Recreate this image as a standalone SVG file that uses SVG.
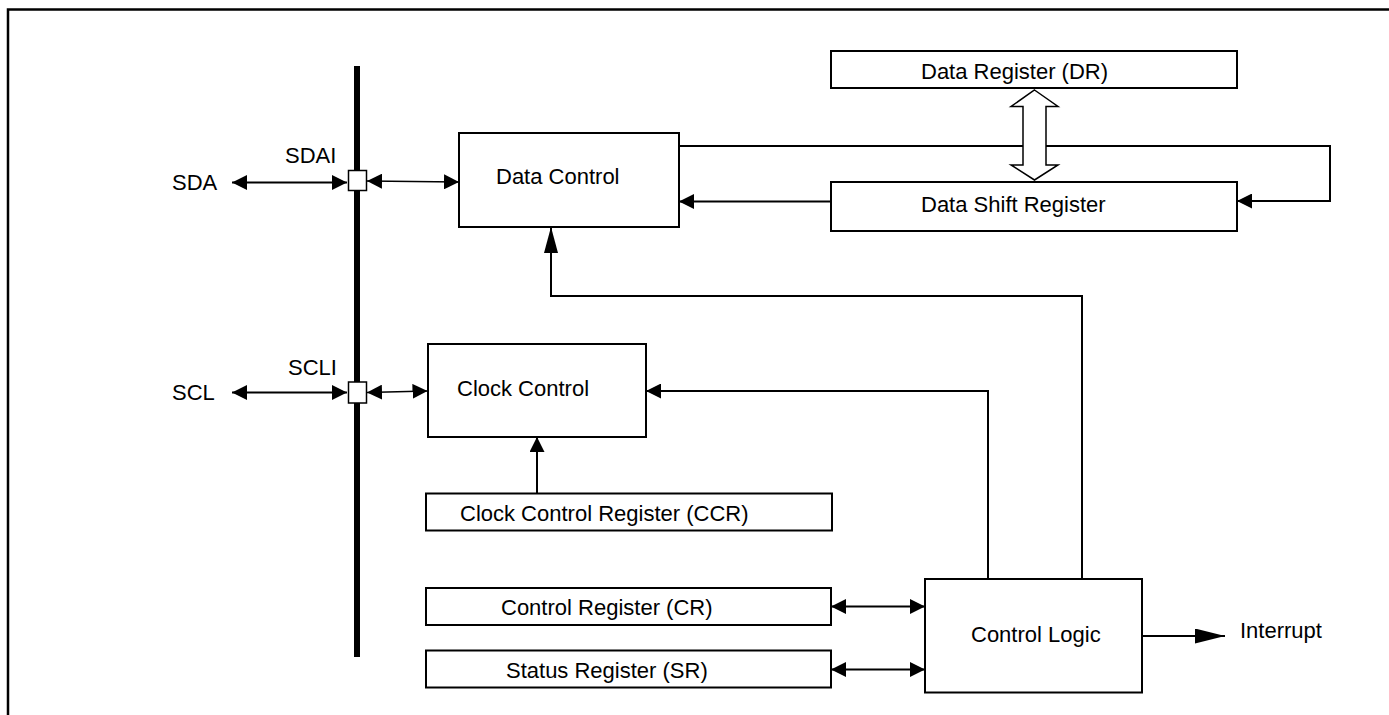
<svg xmlns="http://www.w3.org/2000/svg" width="1389" height="715" viewBox="0 0 1389 715">
<style>
.box{fill:#fff;stroke:#000;stroke-width:2}
.ln{fill:none;stroke:#000;stroke-width:2}
.thin{fill:none;stroke:#000;stroke-width:1.3}
text{font-family:"Liberation Sans",Arial,sans-serif;font-size:22px;fill:#000}
</style>
<defs>
<marker id="a" viewBox="0 0 15 15" markerWidth="15" markerHeight="15" refX="15" refY="7.5" markerUnits="userSpaceOnUse" orient="auto-start-reverse"><path d="M0,0 L15,7.5 L0,15 z" fill="#000"/></marker>
<marker id="tall" viewBox="0 0 26 14" markerWidth="26" markerHeight="14" refX="26" refY="7" markerUnits="userSpaceOnUse" orient="auto"><path d="M0,0 L26,7 L0,14 z" fill="#000"/></marker>
<marker id="big" viewBox="0 0 30 15" markerWidth="30" markerHeight="15" refX="30" refY="7.5" markerUnits="userSpaceOnUse" orient="auto"><path d="M0,0 L30,7.5 L0,15 z" fill="#000"/></marker>
</defs>
<path d="M8,715 V9.5 H1389" fill="none" stroke="#000" stroke-width="2.5"/>
<g id="bus"><rect x="354" y="66" width="6" height="591" fill="#000"/></g>
<g id="connectors">
<line class="ln" x1="232" y1="182.5" x2="347" y2="182.5" marker-start="url(#a)" marker-end="url(#a)"/>
<line class="thin" x1="367" y1="181" x2="459" y2="182" marker-start="url(#a)" marker-end="url(#a)"/>
<line class="ln" x1="232" y1="392.5" x2="347" y2="392.5" marker-start="url(#a)" marker-end="url(#a)"/>
<line class="thin" x1="367" y1="392.5" x2="427.5" y2="391" marker-start="url(#a)" marker-end="url(#a)"/>
<polyline class="ln" points="679,146 1330,146 1330,201 1237,201" marker-end="url(#a)"/>
<line class="ln" x1="831" y1="201.5" x2="679" y2="201.5" marker-end="url(#a)"/>
<polyline class="ln" points="1082,579 1082,296 551,296 551,227" marker-end="url(#tall)"/>
<polyline class="ln" points="988,579 988,391 646,391" marker-end="url(#a)"/>
<line class="ln" x1="537" y1="493" x2="537" y2="437" marker-end="url(#a)"/>
<line class="ln" x1="831" y1="606.5" x2="925" y2="606.5" marker-start="url(#a)" marker-end="url(#a)"/>
<line class="ln" x1="831" y1="669.5" x2="925" y2="669.5" marker-start="url(#a)" marker-end="url(#a)"/>
<line class="ln" x1="1142" y1="636" x2="1225" y2="636" marker-end="url(#big)"/>
<polygon points="1034.5,90 1058,106.5 1046,106.5 1046,165 1058,165 1034.5,180 1011,165 1023,165 1023,106.5 1011,106.5" fill="#fff" stroke="#000" stroke-width="1.5"/>
</g>
<g id="sdai"><rect x="348.5" y="170.5" width="18" height="20" fill="#fff" stroke="#000" stroke-width="1.5"/><text x="285" y="163">SDAI</text></g>
<g id="scli"><rect x="348.5" y="382" width="18" height="21" fill="#fff" stroke="#000" stroke-width="1.5"/><text x="288" y="375">SCLI</text></g>
<g id="sda"><text x="172" y="190">SDA</text></g>
<g id="scl"><text x="172" y="400">SCL</text></g>
<g id="data-control"><rect class="box" x="459" y="133" width="220" height="94"/><text x="496" y="184">Data Control</text></g>
<g id="dr"><rect class="box" x="831" y="51" width="406" height="37"/><text x="921" y="79">Data Register (DR)</text></g>
<g id="dsr"><rect class="box" x="831" y="182" width="406" height="49"/><text x="921" y="212">Data Shift Register</text></g>
<g id="clock-control"><rect class="box" x="428" y="344" width="218" height="93"/><text x="457" y="396">Clock Control</text></g>
<g id="ccr"><rect class="box" x="426" y="493.5" width="406" height="37"/><text x="460" y="521">Clock Control Register (CCR)</text></g>
<g id="cr"><rect class="box" x="426" y="588" width="405" height="37"/><text x="501" y="615">Control Register (CR)</text></g>
<g id="sr"><rect class="box" x="426" y="650.5" width="405" height="37"/><text x="506" y="678">Status Register (SR)</text></g>
<g id="control-logic"><rect class="box" x="925" y="579" width="217" height="113.5"/><text x="971" y="642">Control Logic</text></g>
<g id="interrupt"><text x="1240" y="638">Interrupt</text></g>
</svg>
